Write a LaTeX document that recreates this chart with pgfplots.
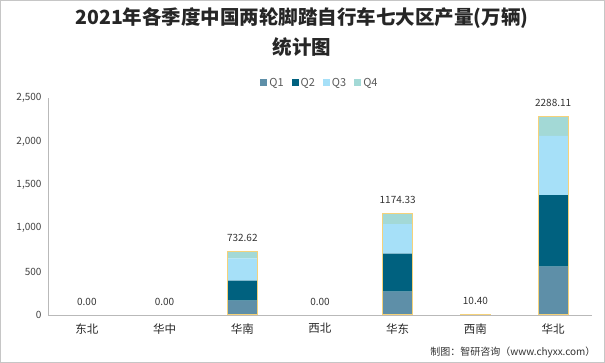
\documentclass[border=0pt]{standalone}
\usepackage{fontspec}
\setmainfont{Noto Sans CJK SC}
\usepackage{pgfplots}
\pgfplotsset{compat=1.18}
\definecolor{cqa}{HTML}{5E8FA8}
\definecolor{cqb}{HTML}{00617F}
\definecolor{cqc}{HTML}{A6E0F8}
\definecolor{cqd}{HTML}{A3D9D6}
\definecolor{cout}{HTML}{F5D27A}
\begin{document}
\begin{tikzpicture}[x=1pt,y=1pt]
\path[use as bounding box] (0,0) rectangle (605,363);
\draw[gray!45, line width=1pt] (0.5,0.5) rectangle (604.5,362.5);
\node[font=\bfseries\fontsize{19.5}{22}\selectfont, text=black!85] at (302,345) {2021年各季度中国两轮脚踏自行车七大区产量(万辆)};
\node[font=\bfseries\fontsize{19.5}{22}\selectfont, text=black!85] at (302,316) {统计图};
\node[anchor=east, font=\fontsize{10}{12}\selectfont, text=black!80] at (599,11) {制图：智研咨询（www.chyxx.com）};
\begin{axis}[
  at={(48pt,48pt)}, anchor=south west,
  scale only axis, width=544pt, height=217pt,
  xmin=-0.5, xmax=6.5, ymin=0, ymax=2500,
  ybar stacked, bar width=30pt,
  xtick={0,...,6}, xticklabels={东北,华中,华南,西北,华东,西南,华北},
  ytick={0,500,1000,1500,2000,2500},
  scaled y ticks=false,
  yticklabel={\pgfmathprintnumber[fixed,1000 sep={,}]{\tick}},
  /pgf/number format/assume math mode=true,
  axis x line*=bottom, axis y line*=left,
  axis line style={-, gray!55},
  major tick length=0pt,
  xticklabel style={font=\fontsize{11.5}{13}\selectfont, text=black!85, yshift=-5pt},
  yticklabel style={font=\fontsize{10}{11}\selectfont, text=black!75, xshift=-3pt},
  legend style={at={(0.5,1.0)}, anchor=south, yshift=6pt, draw=none, fill=none,
    legend columns=4, font=\fontsize{11}{12}\selectfont, text=black!65,
    /tikz/every even column/.append style={column sep=6pt}},
  legend image code/.code={\fill[#1] (0pt,-3.5pt) rectangle (7pt,3.5pt);},
]
\addplot[fill=cqa, draw=none] coordinates {(0,0) (1,0) (2,165) (3,0) (4,268) (5,3) (6,556)};
\addplot[fill=cqb, draw=none] coordinates {(0,0) (1,0) (2,230) (3,0) (4,438) (5,3) (6,826)};
\addplot[fill=cqc, draw=none] coordinates {(0,0) (1,0) (2,258) (3,0) (4,342) (5,3) (6,683)};
\addplot[fill=cqd, draw=none] coordinates {(0,0) (1,0) (2,79.62) (3,0) (4,126.33) (5,1.4) (6,223.11)};
\legend{Q1,Q2,Q3,Q4}
\end{axis}
\begin{axis}[
  at={(48pt,48pt)}, anchor=south west,
  scale only axis, width=544pt, height=217pt,
  xmin=-0.5, xmax=6.5, ymin=0, ymax=2500,
  hide axis, ybar, bar width=30pt, bar shift=0pt,
]
\addplot[draw=cout, fill=none, line width=1pt] coordinates {(2,732.62) (4,1174.33) (5,10.40) (6,2288.11)};
\addplot[draw=none, fill=none,
  nodes near coords={\pgfmathprintnumber[fixed,fixed zerofill,precision=2,1000 sep={},assume math mode=true]{\pgfplotspointmeta}},
  nodes near coords style={font=\fontsize{10}{12}\selectfont, text=black!80, anchor=south, yshift=6pt}]
  coordinates {(0,0) (1,0) (2,732.62) (3,0) (4,1174.33) (5,10.40) (6,2288.11)};
\end{axis}
\end{tikzpicture}
\end{document}
